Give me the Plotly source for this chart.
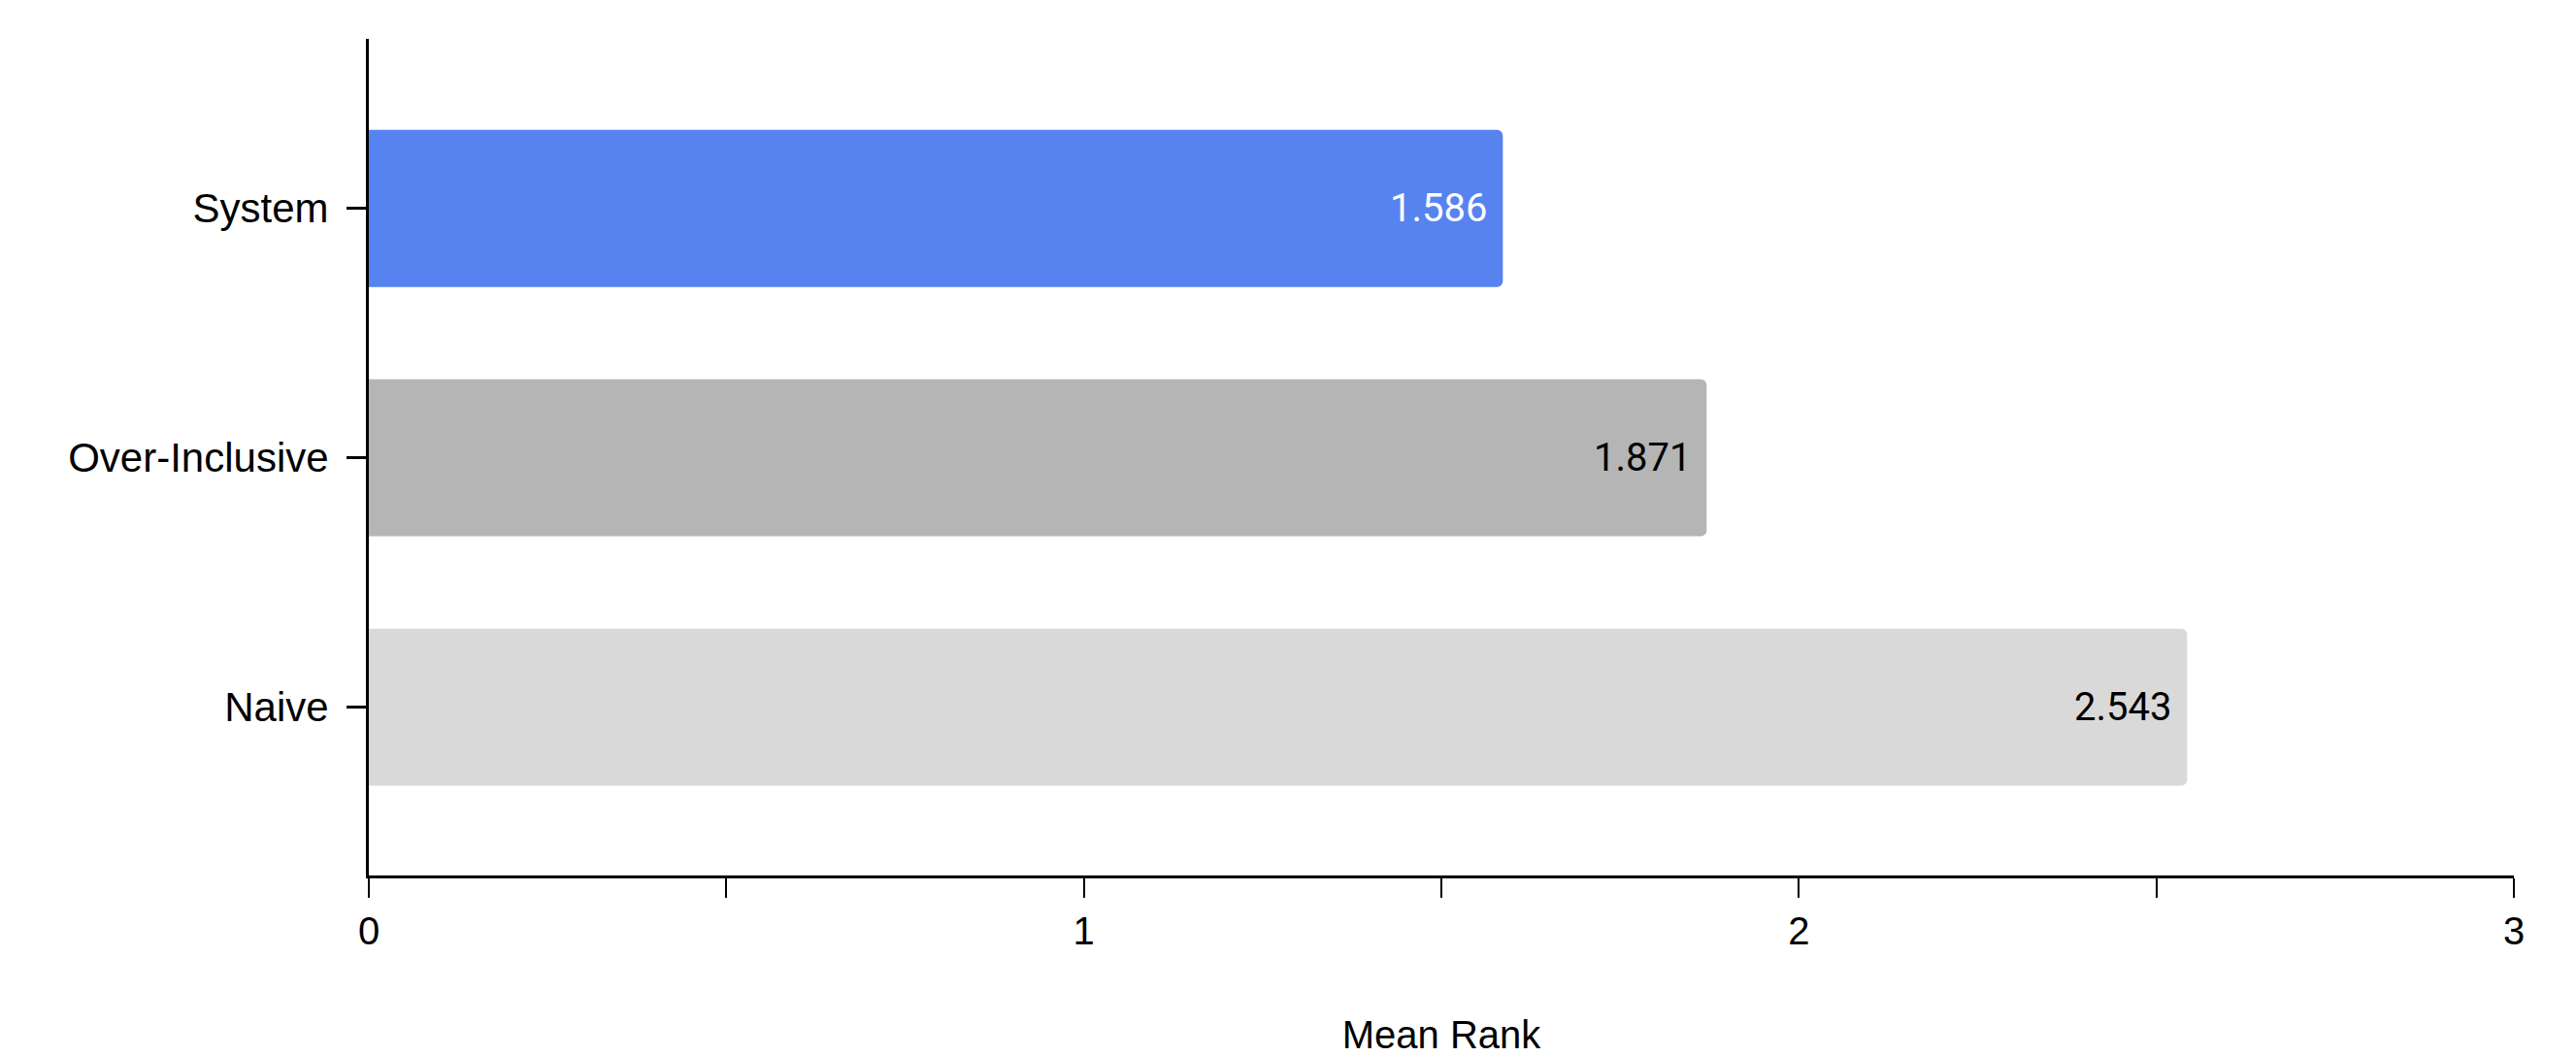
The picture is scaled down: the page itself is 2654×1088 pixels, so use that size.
import plotly.graph_objects as go

categories = ["System", "Over-Inclusive", "Naive"]
mean_rank = [1.586, 1.871, 2.543]
bar_colors = ["#5783f0", "#b5b5b5", "#d9d9d9"]
text_colors = ["#ffffff", "#000000", "#000000"]
x_tickvals = [0, 0.5, 1, 1.5, 2, 2.5, 3]
x_ticktext = ["0", "", "1", "", "2", "", "3"]

fig = go.Figure()
fig.add_trace(go.Bar(
    y=categories,
    x=mean_rank,
    orientation="h",
    marker=dict(color=bar_colors, line=dict(width=0), cornerradius=6),
    width=0.63,
    texttemplate="%{x:.3f}\u00a0",
    textposition="inside",
    insidetextanchor="end",
    textangle=0,
    constraintext="none",
    textfont=dict(family="Roboto, Arial, sans-serif", size=40, color=text_colors),
    hoverinfo="skip",
    showlegend=False,
))

fig.update_layout(
    width=2654,
    height=1088,
    margin=dict(l=380, r=64, t=40, b=186, pad=0),
    paper_bgcolor="white",
    plot_bgcolor="white",
    font=dict(family="Liberation Sans, Arial, sans-serif", size=40, color="#000000"),
    bargap=0.37,
)

fig.update_xaxes(
    range=[0, 3],
    tickvals=x_tickvals,
    ticktext=x_ticktext,
    ticks="outside",
    ticklen=20,
    tickwidth=2,
    tickcolor="#000000",
    showline=True,
    linecolor="#000000",
    linewidth=3,
    showgrid=False,
    zeroline=False,
    automargin=False,
    ticklabelstandoff=0,
    tickfont=dict(size=40),
    title=dict(text="Mean Rank", standoff=72, font=dict(size=40)),
)

fig.update_yaxes(
    categoryorder="array",
    categoryarray=categories,
    range=[2.675, -0.68],
    ticks="outside",
    ticklen=20,
    tickwidth=3,
    tickcolor="#000000",
    showline=True,
    linecolor="#000000",
    linewidth=3,
    showgrid=False,
    zeroline=False,
    automargin=False,
    ticklabelstandoff=10,
    tickfont=dict(size=42),
)

fig.write_html("out.html")
